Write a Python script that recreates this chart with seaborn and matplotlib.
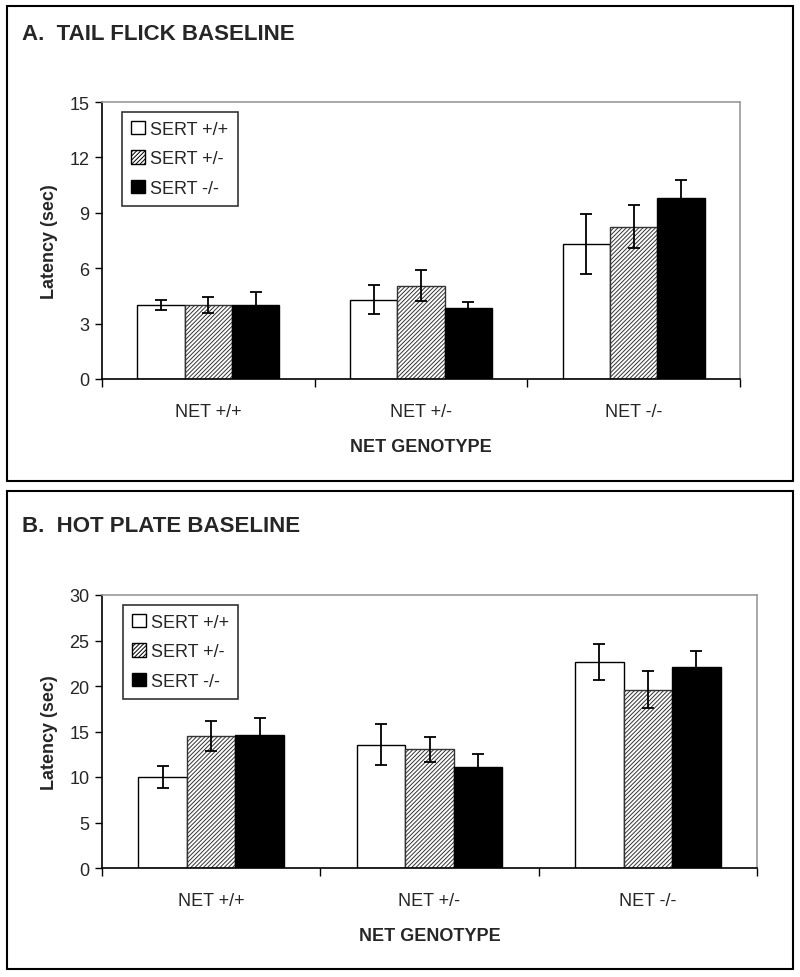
import numpy as np
import pandas as pd
import matplotlib
matplotlib.use('Agg')
import matplotlib.pyplot as plt
from matplotlib.patches import Patch, Rectangle
import seaborn as sns

# Data
net_labels = ['NET +/+', 'NET +/-', 'NET -/-']
sert_labels = ['SERT +/+', 'SERT +/-', 'SERT -/-']

# A. tail flick (sec)
tail_wt = [4.0, 4.3, 7.3]
tail_het = [4.0, 5.05, 8.25]
tail_ko = [4.0, 3.85, 9.8]
tail_wt_err = [0.28, 0.78, 1.62]
tail_het_err = [0.45, 0.85, 1.16]
tail_ko_err = [0.7, 0.34, 1.0]

# B. hot plate (sec)
hot_wt = [10.0, 13.55, 22.65]
hot_het = [14.5, 13.05, 19.6]
hot_ko = [14.6, 11.1, 22.1]
hot_wt_err = [1.2, 2.25, 1.95]
hot_het_err = [1.65, 1.4, 2.0]
hot_ko_err = [1.9, 1.4, 1.7]

sns.set_style('white')
plt.rcParams['font.family'] = ['Liberation Sans', 'DejaVu Sans']
plt.rcParams['hatch.linewidth'] = 0.7

fills = ['white', 'white', 'black']
hatches = [None, '////////', None]


def draw_panel(ax, series, errs, ymax, ystep):
    # Build the table seaborn needs
    rows = []
    for sert, vals in zip(sert_labels, series):
        for net, v in zip(net_labels, vals):
            rows.append({'NET': net, 'SERT': sert, 'Latency': v})
    df = pd.DataFrame(rows)

    sns.barplot(data=df, x='NET', y='Latency', hue='SERT', order=net_labels,
                hue_order=sert_labels, palette=fills, width=0.667, gap=0,
                errorbar=None, edgecolor='black', linewidth=1.0, ax=ax,
                legend=False)

    # Hatching and error bars, per hue container
    for cont, hatch, err in zip(ax.containers, hatches, errs):
        xs, ys = [], []
        for bar in cont:
            if hatch:
                bar.set_hatch(hatch)
                bar.set_edgecolor('#333333')
            xs.append(bar.get_x() + bar.get_width() / 2)
            ys.append(bar.get_height())
        ax.errorbar(xs, ys, yerr=err, fmt='none', ecolor='black',
                    elinewidth=1.3, capsize=4, capthick=1.3, zorder=5)

    ax.set_xlim(-0.5, 2.5)
    ax.set_ylim(0, ymax)
    ax.set_yticks(np.arange(0, ymax + 0.1, ystep))
    ax.set_xticks(range(3))
    ax.set_xticklabels(net_labels, fontsize=13)
    ax.set_xticks([-0.5, 0.5, 1.5, 2.5], minor=True)
    ax.tick_params(axis='x', which='major', length=0, pad=17)
    ax.tick_params(axis='x', which='minor', length=6, width=1, direction='out',
                   color='black', bottom=True)
    ax.tick_params(axis='y', length=5, width=1, direction='out', left=True,
                   color='black', labelsize=13, pad=4)
    ax.set_xlabel('NET GENOTYPE', fontsize=13, fontweight='bold', labelpad=13)
    ax.set_ylabel('Latency (sec)', fontsize=13, fontweight='bold', labelpad=8)

    for side in ['top', 'right']:
        ax.spines[side].set_color('#9a9a9a')
        ax.spines[side].set_linewidth(1.2)
    for side in ['left', 'bottom']:
        ax.spines[side].set_color('black')
        ax.spines[side].set_linewidth(1.2)

    handles = [Patch(facecolor=f, edgecolor='black', hatch=h, label=l)
               for f, h, l in zip(fills, hatches, sert_labels)]
    leg = ax.legend(handles=handles, loc='upper left', fontsize=13,
                    frameon=True, fancybox=False, edgecolor='black',
                    handlelength=0.75, handleheight=0.75, handletextpad=0.3,
                    labelspacing=0.7, borderpad=0.5, borderaxespad=0,
                    bbox_to_anchor=(0.032, 0.965))
    leg.get_frame().set_linewidth(1.2)


fig = plt.figure(figsize=(8, 9.78), dpi=100)
W, H = 800, 978

ax_a = fig.add_axes([102 / W, 1 - 380 / H, 638 / W, 277 / H])
ax_b = fig.add_axes([102 / W, 1 - 869 / H, 655 / W, 273 / H])

draw_panel(ax_a, [tail_wt, tail_het, tail_ko],
           [tail_wt_err, tail_het_err, tail_ko_err], 15, 3)
draw_panel(ax_b, [hot_wt, hot_het, hot_ko],
           [hot_wt_err, hot_het_err, hot_ko_err], 30, 5)

# Panel frames and titles
fig.patches.append(Rectangle((7 / W, 1 - 482 / H), 786 / W, 475 / H,
                             transform=fig.transFigure, fill=False,
                             edgecolor='black', linewidth=1.5))
fig.patches.append(Rectangle((7 / W, 1 - 970 / H), 786 / W, 478 / H,
                             transform=fig.transFigure, fill=False,
                             edgecolor='black', linewidth=1.5))
fig.text(22 / W, 1 - 35 / H, 'A.  TAIL FLICK BASELINE', fontsize=16,
         fontweight='bold', va='center')
fig.text(22 / W, 1 - 527 / H, 'B.  HOT PLATE BASELINE', fontsize=16,
         fontweight='bold', va='center')

fig.savefig('out.png', dpi=100)
